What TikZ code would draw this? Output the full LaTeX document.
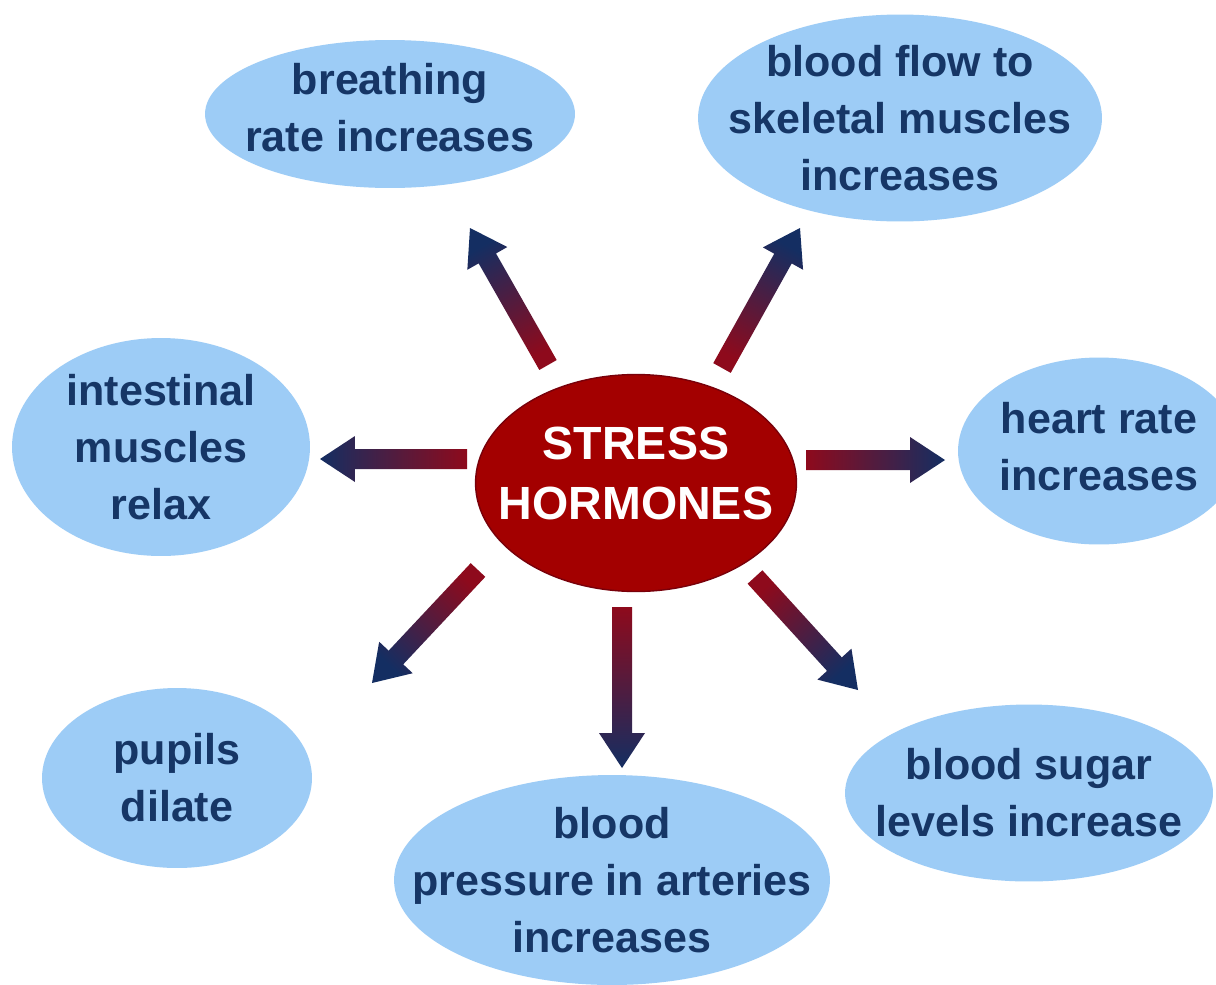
\documentclass[tikz,border=0pt]{standalone}
\usepackage{fontspec}
\setmainfont{Liberation Sans}
\usepackage{xcolor}
\definecolor{bubblefill}{RGB}{157,204,246}
\definecolor{bubbletext}{RGB}{22,54,102}
\definecolor{hormonered}{RGB}{163,0,0}
\definecolor{hormoneedge}{RGB}{120,0,10}
\definecolor{tailred}{RGB}{142,10,28}
\definecolor{tipblue}{RGB}{20,46,98}
\usepackage{tikz}
\usetikzlibrary{shapes.geometric, calc}
\newcommand{\shaftw}{0.2cm}
\newcommand{\headw}{0.46cm}
\newcommand{\headl}{0.7cm}
% shaded arrow: tail, tip, shading angle
\newcommand{\shadedarrow}[3]{%
  \coordinate (hb) at ($(#2)!\headl!(#1)$);
  \shade[bottom color=tailred, top color=tipblue, shading angle=#3]
    ($(#1)!\shaftw!90:(#2)$) -- ($(hb)!\shaftw!90:(#2)$) -- ($(hb)!\headw!90:(#2)$) -- (#2)
    -- ($(hb)!\headw!-90:(#2)$) -- ($(hb)!\shaftw!-90:(#2)$) -- ($(#1)!\shaftw!-90:(#2)$) -- cycle;
}

\begin{document}
\begin{tikzpicture}[
  x=0.02cm, y=-0.02cm,
  enode/.style={ellipse, fill=bubblefill, text=bubbletext, align=center, inner sep=-1.5cm, font=\fontsize{24.5pt}{32.4pt}\selectfont\bfseries},
  hnode/.style={ellipse, fill=hormonered, draw=hormoneedge, thick, text=white, align=center, inner sep=-1.5cm, font=\fontsize{26.5pt}{34pt}\selectfont\bfseries}
]
\clip (0,0) rectangle (1216,984);
\fill[white] (0,0) rectangle (1216,984);
\node[enode, minimum width=7.4cm, minimum height=2.96cm, text depth=0.25cm] (breath) at (390,114) {breathing\\rate increases};
\node[enode, minimum width=8.08cm, minimum height=4.14cm] (blood) at (900,118) {blood flow to\\skeletal muscles\\increases};
\node[enode, minimum width=5.96cm, minimum height=4.36cm] (intest) at (161,447) {intestinal\\muscles\\relax};
\node[enode, minimum width=5.64cm, minimum height=3.74cm, text depth=0.2cm] (heart) at (1099,451) {heart rate\\increases};
\node[hnode, minimum width=6.42cm, minimum height=4.34cm, text depth=0.4cm] (hormones) at (636,483) {STRESS\\HORMONES};
\node[enode, minimum width=5.4cm, minimum height=3.6cm] (pupils) at (177,778) {pupils\\dilate};
\node[enode, minimum width=7.36cm, minimum height=3.54cm] (sugar) at (1029,793) {blood sugar\\levels increase};
\node[enode, minimum width=8.72cm, minimum height=4.2cm] (pressure) at (612,880) {blood\\pressure in arteries\\increases};
\coordinate (t1) at (548,365); \coordinate (h1) at (470,228);
\coordinate (t2) at (722,368); \coordinate (h2) at (800,228);
\coordinate (t3) at (467,459); \coordinate (h3) at (320,459);
\coordinate (t4) at (806,460); \coordinate (h4) at (945,460);
\coordinate (t5) at (478,570); \coordinate (h5) at (372,683);
\coordinate (t6) at (622,607); \coordinate (h6) at (622,768);
\coordinate (t7) at (755,577); \coordinate (h7) at (858,690);
\shadedarrow{t1}{h1}{29.7}
\shadedarrow{t2}{h2}{-29.1}
\shadedarrow{t3}{h3}{90}
\shadedarrow{t4}{h4}{-90}
\shadedarrow{t5}{h5}{136.8}
\shadedarrow{t6}{h6}{180}
\shadedarrow{t7}{h7}{-137.7}
\end{tikzpicture}
\end{document}
